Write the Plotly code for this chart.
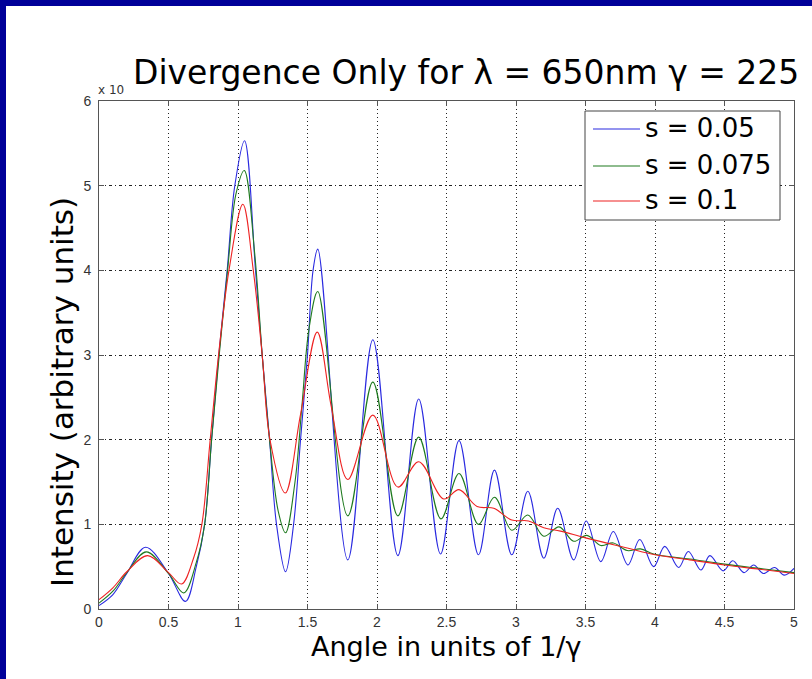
import plotly.graph_objects as go

# Angle (units of 1/gamma) and intensity (x10^4, arbitrary units) for each slit width s
angle_s005 = [0, 0.1, 0.2, 0.335, 0.5, 0.622, 0.70, 0.76, 0.81, 0.862, 0.922, 0.977, 1.047,
              1.126, 1.174, 1.227, 1.277, 1.342, 1.40, 1.45, 1.50, 1.54, 1.574,
              1.79, 1.97, 2.15, 2.30, 2.457, 2.59, 2.73, 2.845, 2.97, 3.085, 3.20, 3.30,
              3.415, 3.505, 3.61, 3.70, 3.805, 3.89, 3.99, 4.07, 4.17, 4.24, 4.33, 4.395,
              4.49, 4.56, 4.64, 4.71, 4.78, 4.86, 4.93, 5.0]
intensity_s005 = [0.04, 0.17, 0.42, 0.73, 0.42, 0.09, 0.50, 1.0, 2.0, 3.0, 4.0, 5.0, 5.53,
                  4.0, 3.0, 2.0, 1.0, 0.44, 1.0, 2.0, 3.0, 4.0, 4.25,
                  0.58, 3.18, 0.63, 2.48, 0.65, 1.99, 0.64, 1.64, 0.64, 1.39, 0.60, 1.19,
                  0.58, 1.04, 0.56, 0.915, 0.52, 0.82, 0.50, 0.74, 0.49, 0.68, 0.46, 0.63,
                  0.45, 0.57, 0.43, 0.52, 0.42, 0.49, 0.40, 0.48]

angle_s0075 = [0, 0.1, 0.2, 0.34, 0.5, 0.61, 0.70, 0.76, 0.81, 0.865, 0.925, 0.985, 1.045,
               1.12, 1.174, 1.227, 1.29, 1.342, 1.41, 1.46, 1.51, 1.574,
               1.79, 1.97, 2.15, 2.30, 2.46, 2.59, 2.73, 2.845, 2.97, 3.085, 3.20, 3.31,
               3.415, 3.51, 3.61, 3.70, 3.80, 3.895, 3.99, 4.25, 4.5, 4.75, 5.0]
intensity_s0075 = [0.07, 0.21, 0.43, 0.675, 0.42, 0.19, 0.55, 1.0, 2.0, 3.0, 4.0, 4.9, 5.18,
                   4.2, 3.0, 2.0, 1.15, 0.90, 1.5, 2.4, 3.3, 3.75,
                   1.10, 2.68, 1.10, 2.03, 1.065, 1.60, 1.00, 1.32, 0.93, 1.11, 0.86, 0.97,
                   0.80, 0.87, 0.75, 0.78, 0.69, 0.71, 0.65, 0.59, 0.53, 0.48, 0.43]

angle_s01 = [0, 0.1, 0.2, 0.35, 0.5, 0.594, 0.68, 0.74, 0.80, 0.86, 0.935, 1.035,
             1.11, 1.174, 1.23, 1.34, 1.45, 1.57, 1.67, 1.79, 1.97, 2.15, 2.30, 2.48,
             2.59, 2.72, 2.84, 2.97, 3.09, 3.20, 3.32, 3.50, 3.80, 4.0, 4.25, 4.5, 4.75, 5.0]
intensity_s01 = [0.11, 0.25, 0.44, 0.63, 0.43, 0.295, 0.60, 1.0, 2.0, 3.0, 4.0, 4.78,
                 4.0, 3.0, 2.0, 1.37, 2.3, 3.27, 2.4, 1.53, 2.29, 1.44, 1.74, 1.30,
                 1.41, 1.21, 1.19, 1.05, 1.04, 0.96, 0.92, 0.84, 0.72, 0.64, 0.58, 0.52, 0.47, 0.42]

series_names = ["s = 0.05", "s = 0.075", "s = 0.1"]
series_colors = ["#2a2ae0", "#1f7a1f", "#ee2222"]
series_data = [(angle_s005, intensity_s005), (angle_s0075, intensity_s0075), (angle_s01, intensity_s01)]

x_ticks = [0, 0.5, 1, 1.5, 2, 2.5, 3, 3.5, 4, 4.5, 5]
y_ticks = [0, 1, 2, 3, 4, 5, 6]

W, H = 812, 679
ML, MR, MT, MB = 99, 18, 101, 70
PW = W - ML - MR
PH = H - MT - MB


def px_x(px):
    return (px - ML) / PW


def px_y(py):
    return (H - MB - py) / PH


TICK_FONT = "Liberation Sans, Arial, Helvetica, sans-serif"
TEXT_FONT = "DejaVu Sans, Verdana, sans-serif"
BORDER = "#000099"

fig = go.Figure()
for name, color, (xs, ys) in zip(series_names, series_colors, series_data):
    fig.add_trace(go.Scatter(
        x=xs, y=ys, mode="lines", name=name, showlegend=False,
        line=dict(color=color, width=1.1, shape="spline", smoothing=1),
    ))

axis_common = dict(
    showline=True, linecolor="#555", linewidth=1, mirror="ticks",
    ticks="inside", ticklen=5, tickcolor="#555",
    showgrid=True, gridcolor="#222", gridwidth=1,
    zeroline=False, tickfont=dict(family=TICK_FONT, size=14, color="#333"),
)

fig.update_xaxes(range=[0, 5], tickvals=x_ticks, ticktext=[f"{t:g}" for t in x_ticks],
                 griddash="1px,3px", **axis_common)
fig.update_yaxes(range=[0, 6], tickvals=y_ticks, ticktext=[str(t) for t in y_ticks],
                 griddash="3px,3px,1px,3px", ticklabelstandoff=4, **axis_common)

annotations = [
    dict(text="Divergence Only for λ = 650nm γ = 225", x=px_x(466), y=px_y(72),
         xref="paper", yref="paper", xanchor="center", yanchor="middle", showarrow=False,
         font=dict(family=TEXT_FONT, size=33, color="black")),
    dict(text="Angle in units of 1/γ", x=px_x(446), y=px_y(646),
         xref="paper", yref="paper", xanchor="center", yanchor="middle", showarrow=False,
         font=dict(family=TEXT_FONT, size=27, color="black")),
    dict(text="Intensity (arbitrary units)", x=px_x(62), y=px_y(392), textangle=-90,
         xref="paper", yref="paper", xanchor="center", yanchor="middle", showarrow=False,
         font=dict(family=TEXT_FONT, size=31, color="black")),
    dict(text="x 10", x=px_x(96), y=px_y(90),
         xref="paper", yref="paper", xanchor="left", yanchor="middle", showarrow=False,
         font=dict(family=TEXT_FONT, size=12, color="#333")),
]

# page border strips (left and top)
shapes = [
    dict(type="rect", xref="paper", yref="paper", x0=px_x(0), x1=px_x(6), y0=px_y(H), y1=px_y(0),
         fillcolor=BORDER, line=dict(width=0), layer="above"),
    dict(type="rect", xref="paper", yref="paper", x0=px_x(0), x1=px_x(W), y0=px_y(6), y1=px_y(0),
         fillcolor=BORDER, line=dict(width=0), layer="above"),
]

# legend box with line samples and labels
LEG_LEFT, LEG_RIGHT, LEG_TOP, LEG_BOTTOM = 585, 780, 111, 220
leg_rows = [128, 165, 200]
shapes.append(dict(type="rect", xref="paper", yref="paper",
                   x0=px_x(LEG_LEFT), x1=px_x(LEG_RIGHT), y0=px_y(LEG_BOTTOM), y1=px_y(LEG_TOP),
                   fillcolor="white", line=dict(color="#444", width=1), layer="above"))
for name, color, row in zip(series_names, series_colors, leg_rows):
    shapes.append(dict(type="line", xref="paper", yref="paper",
                       x0=px_x(593), x1=px_x(640), y0=px_y(row + 1), y1=px_y(row + 1),
                       line=dict(color=color, width=1.1), layer="above"))
    annotations.append(dict(text=name, x=px_x(643), y=px_y(row), xref="paper", yref="paper",
                            xanchor="left", yanchor="middle", showarrow=False,
                            font=dict(family=TEXT_FONT, size=26, color="black")))

fig.update_layout(
    width=W, height=H,
    margin=dict(l=ML, r=MR, t=MT, b=MB, autoexpand=False),
    paper_bgcolor="white", plot_bgcolor="white",
    font=dict(family=TEXT_FONT),
    showlegend=False,
    annotations=annotations,
    shapes=shapes,
)

fig.write_html("out.html")
